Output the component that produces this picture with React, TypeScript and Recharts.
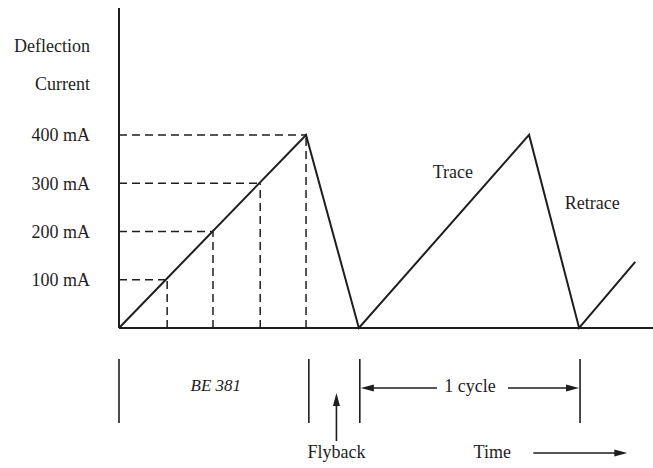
import React from 'react';
import { ComposedChart, Line, XAxis, YAxis, ReferenceLine, ReferenceDot } from 'recharts';

// sawtooth deflection current (time in arbitrary units, current in mA)
const times = [0, 4.0, 5.13, 8.77, 9.84, 11.04];
const current = [0, 400, 0, 400, 0, 137];

// dashed guide levels and where the trace crosses them
const levels = [100, 200, 300, 400];
const levelTimes = [1.03, 2.01, 3.02, 4.0];

const yTicks = [100, 200, 300, 400];

// time markers below the axis
const markerTimes = [0, 4.06, 5.15, 9.86];
const cycleStart = 5.15;
const cycleEnd = 9.86;
const flybackTime = 4.65;

const INK = '#1e1e1e';
const FONT = '"Liberation Serif", "DejaVu Serif", serif';

const waveform = times.map((t, i) => ({ t, current: current[i] }));

const arrowHead = (x: number, y: number, dir: 'left' | 'right' | 'up') => {
  if (dir === 'left') return <polygon points={`${x},${y} ${x + 13},${y - 3.5} ${x + 13},${y + 3.5}`} fill={INK} />;
  if (dir === 'right') return <polygon points={`${x},${y} ${x - 13},${y - 3.5} ${x - 13},${y + 3.5}`} fill={INK} />;
  return <polygon points={`${x},${y} ${x - 3.5},${y + 13} ${x + 3.5},${y + 13}`} fill={INK} />;
};

const labelStyle = { fontFamily: FONT, fontSize: 18, fill: INK };

export default function App() {
  return (
    <div style={{ position: 'absolute', left: 0, top: 0, width: 653, height: 468, background: '#fff' }}>
      <div style={{ position: 'absolute', left: 0, width: 90, top: 27, textAlign: 'right', fontFamily: FONT, fontSize: 18, color: INK, lineHeight: '38px' }}>
        <div>Deflection</div>
        <div>Current</div>
      </div>
      <ComposedChart width={653} height={468} data={waveform} margin={{ top: 8, right: 0, left: 0, bottom: 0 }}>
        <XAxis
          dataKey="t"
          type="number"
          domain={[0, 11.42]}
          height={140}
          tick={false}
          tickLine={false}
          axisLine={{ stroke: INK, strokeWidth: 2 }}
        />
        <YAxis
          type="number"
          domain={[0, 663]}
          ticks={yTicks}
          width={119}
          tickSize={0}
          tickMargin={29}
          tickFormatter={(v: number) => `${v} mA`}
          axisLine={{ stroke: INK, strokeWidth: 2 }}
          tick={{ fill: INK, fontSize: 18, fontFamily: FONT }}
        />
        {levels.map((v, i) => (
          <ReferenceLine
            key={'h' + v}
            segment={[{ x: 0, y: v }, { x: levelTimes[i], y: v }]}
            stroke={INK}
            strokeWidth={1.5}
            strokeDasharray="8 5"
          />
        ))}
        {levels.map((v, i) => (
          <ReferenceLine
            key={'v' + v}
            segment={[{ x: levelTimes[i], y: 0 }, { x: levelTimes[i], y: v }]}
            stroke={INK}
            strokeWidth={1.5}
            strokeDasharray="8 5"
          />
        ))}
        <Line
          dataKey="current"
          type="linear"
          stroke={INK}
          strokeWidth={2}
          dot={false}
          isAnimationActive={false}
        />
        <ReferenceDot x={7.14} y={323} r={0} shape={(p: any) => (
          <text x={p.cx} y={p.cy} textAnchor="middle" dominantBaseline="central" style={labelStyle}>Trace</text>
        )} />
        <ReferenceDot x={10.12} y={259} r={0} shape={(p: any) => (
          <text x={p.cx} y={p.cy} textAnchor="middle" dominantBaseline="central" style={labelStyle}>Retrace</text>
        )} />
        {markerTimes.map((t) => (
          <ReferenceLine key={'m' + t} x={t} shape={(p: any) => (
            <line x1={p.x1} x2={p.x1} y1={359} y2={423} stroke={INK} strokeWidth={1.6} />
          )} />
        ))}
        <ReferenceLine x={2.07} shape={(p: any) => (
          <text x={p.x1} y={385} textAnchor="middle" dominantBaseline="central" style={{ ...labelStyle, fontSize: 17, fontStyle: 'italic' }}>BE 381</text>
        )} />
        <ReferenceLine x={flybackTime} shape={(p: any) => (
          <g>
            <line x1={p.x1} x2={p.x1} y1={441} y2={400} stroke={INK} strokeWidth={1.6} />
            {arrowHead(p.x1, 393, 'up')}
            <text x={p.x1} y={452} textAnchor="middle" dominantBaseline="central" style={labelStyle}>Flyback</text>
          </g>
        )} />
        <ReferenceLine segment={[{ x: cycleStart, y: 0 }, { x: cycleEnd, y: 0 }]} shape={(p: any) => {
          const mid = (p.x1 + p.x2) / 2;
          return (
            <g>
              <line x1={p.x1 + 6} x2={mid - 33} y1={388} y2={388} stroke={INK} strokeWidth={1.6} />
              {arrowHead(p.x1 + 1, 388, 'left')}
              <line x1={mid + 38} x2={p.x2 - 6} y1={388} y2={388} stroke={INK} strokeWidth={1.6} />
              {arrowHead(p.x2 - 1, 388, 'right')}
              <text x={mid} y={386} textAnchor="middle" dominantBaseline="central" style={labelStyle}>1 cycle</text>
            </g>
          );
        }} />
        <ReferenceLine segment={[{ x: 8.86, y: 0 }, { x: 10.87, y: 0 }]} shape={(p: any) => (
          <g>
            <text x={p.x1 - 41} y={452} textAnchor="middle" dominantBaseline="central" style={labelStyle}>Time</text>
            <line x1={p.x1} x2={p.x2 - 6} y1={453} y2={453} stroke={INK} strokeWidth={1.6} />
            {arrowHead(p.x2, 453, 'right')}
          </g>
        )} />
      </ComposedChart>
    </div>
  );
}
